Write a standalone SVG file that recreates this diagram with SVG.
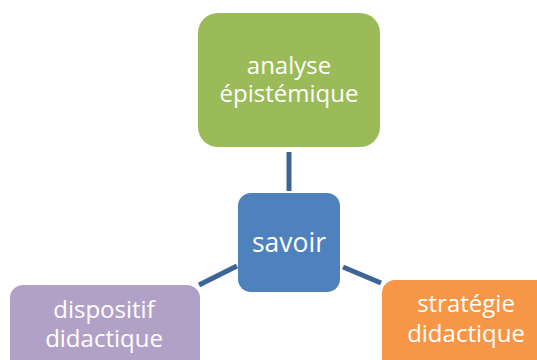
<svg xmlns="http://www.w3.org/2000/svg" width="537" height="360" viewBox="0 0 537 360">
<style>
.t{font-family:"Open Sans","Liberation Sans",sans-serif;fill:#fff;text-anchor:middle;font-size:24px}
.c{stroke:#3C6496;stroke-width:5;fill:none}
</style>
<rect width="537" height="360" fill="#fff"/>
<g id="connectors">
<line class="c" x1="289" y1="152" x2="289" y2="191"/>
<line class="c" x1="199" y1="285" x2="237" y2="266"/>
<line class="c" x1="343" y1="267" x2="381" y2="283"/>
</g>
<g id="analyse">
<rect x="198" y="13" width="182" height="134" rx="20" fill="#9BBB59"/>
<text class="t" x="289" y="74">analyse</text>
<text class="t" x="289" y="102">épistémique</text>
</g>
<g id="savoir">
<rect x="238" y="193" width="102" height="99" rx="13" fill="#4F81BD"/>
<text class="t" x="289" y="252" style="font-size:26.5px">savoir</text>
</g>
<g id="dispositif">
<rect x="10" y="285" width="190" height="95" rx="13" fill="#B2A1C7"/>
<text class="t" x="104" y="318">dispositif</text>
<text class="t" x="104" y="347">didactique</text>
</g>
<g id="strategie">
<rect x="382" y="280" width="170" height="95" rx="13" fill="#F79646"/>
<text class="t" x="466" y="312">stratégie</text>
<text class="t" x="466" y="342">didactique</text>
</g>
</svg>
